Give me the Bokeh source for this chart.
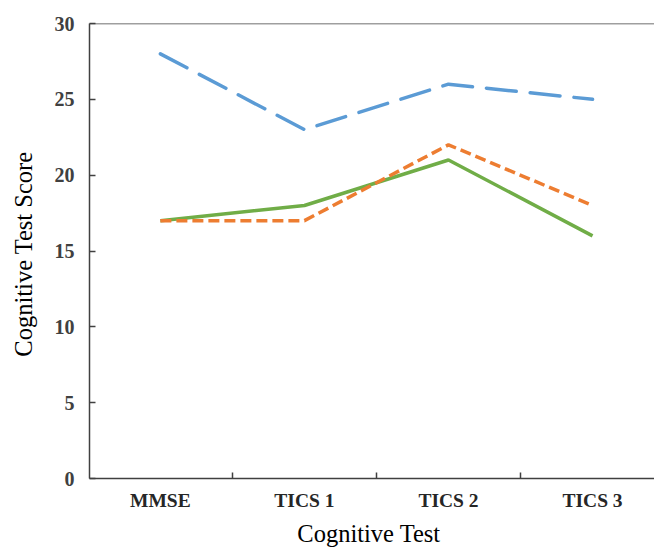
from bokeh.plotting import figure
from bokeh.models import Range1d, FixedTicker, Span
from bokeh.embed import file_html
from bokeh.resources import INLINE

categories = ["MMSE", "TICS 1", "TICS 2", "TICS 3"]
series_blue = [28, 23, 26, 25]
series_orange = [17, 17, 22, 18]
series_green = [17, 18, 21, 16]
y_ticks = [0, 5, 10, 15, 20, 25, 30]

xs = list(range(len(categories)))
boundaries = [i + 0.5 for i in range(len(categories) - 1)]

p = figure(width=654, height=549, output_backend="svg", toolbar_location=None,
           x_range=Range1d(-0.492, 3.43), y_range=Range1d(0, 30),
           min_border_left=89, min_border_right=0, min_border_top=23,
           min_border_bottom=66)
p.outline_line_color = None
p.xgrid.visible = False
p.ygrid.visible = False
p.background_fill_color = "white"
p.border_fill_color = "white"

p.line(xs, series_green, line_color="#70AD47", line_width=3.5)
p.line(xs, series_orange, line_color="#ED7D31", line_width=3.5, line_dash="11 5")
p.line(xs, series_blue, line_color="#5B9BD5", line_width=3.5, line_dash="30 14",
       line_cap="round")

p.add_layout(Span(location=30, dimension="width", line_color="#404040", line_width=1.5))

axis_color = "#404040"
serif = "Liberation Serif"

xa = p.xaxis[0]
xa.ticker = FixedTicker(ticks=xs, minor_ticks=boundaries)
xa.major_label_overrides = {i: c for i, c in zip(xs, categories)}
xa.major_tick_in = 0
xa.major_tick_out = 0
xa.minor_tick_in = 6
xa.minor_tick_out = 0
xa.minor_tick_line_color = axis_color
xa.minor_tick_line_width = 1.5
xa.axis_line_color = axis_color
xa.axis_line_width = 1.5
xa.major_label_text_font = serif
xa.major_label_text_font_style = "bold"
xa.major_label_text_font_size = "19.5px"
xa.major_label_text_color = "#262626"
xa.major_label_standoff = 11
xa.axis_label = "Cognitive  Test"
xa.axis_label_text_font = serif
xa.axis_label_text_font_style = "normal"
xa.axis_label_text_font_size = "24.5px"
xa.axis_label_text_color = "black"
xa.axis_label_text_line_height = 0.9
xa.axis_label_standoff = 6

ya = p.yaxis[0]
ya.ticker = FixedTicker(ticks=y_ticks)
ya.major_tick_in = 6
ya.major_tick_out = 0
ya.minor_tick_line_color = None
ya.major_tick_line_color = axis_color
ya.major_tick_line_width = 1.5
ya.axis_line_color = axis_color
ya.axis_line_width = 1.5
ya.major_label_text_font = serif
ya.major_label_text_font_style = "bold"
ya.major_label_text_font_size = "20px"
ya.major_label_text_color = "#404040"
ya.major_label_standoff = 15
ya.axis_label = "Cognitive  Test Score"
ya.axis_label_text_font = serif
ya.axis_label_text_font_style = "normal"
ya.axis_label_text_font_size = "24.5px"
ya.axis_label_text_color = "black"
ya.axis_label_standoff = 15

open("out.html", "w").write(file_html(p, INLINE))
